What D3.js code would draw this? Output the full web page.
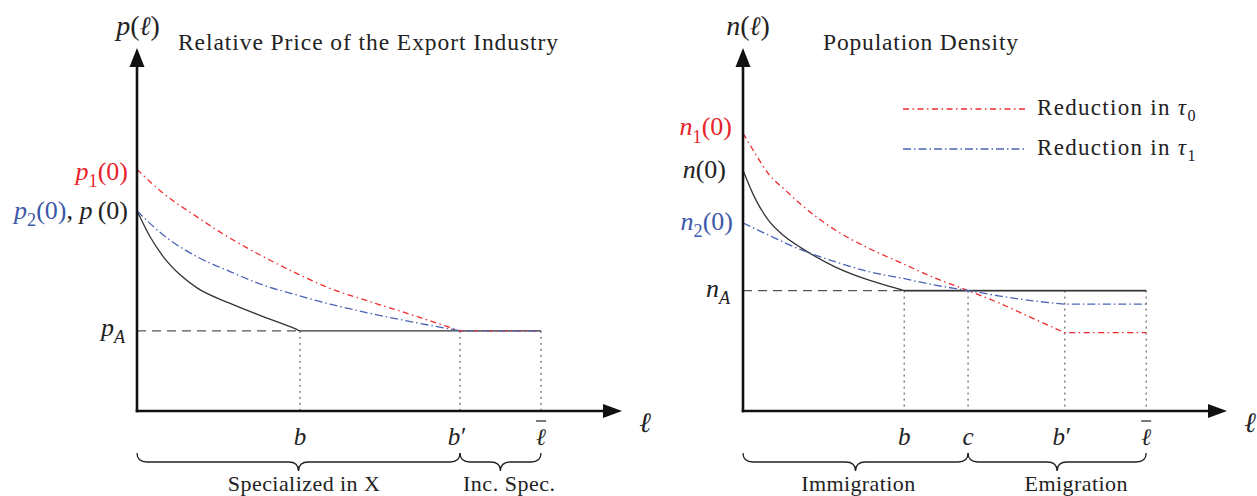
<!DOCTYPE html>
<html><head><meta charset="utf-8">
<script src="https://cdn.jsdelivr.net/npm/d3@7"></script>
<style>
body{margin:0;background:#fff;}
svg{display:block;}
text{font-family:"Liberation Serif","Times New Roman",serif;}
</style>
</head><body>
<svg id="chart" width="1257" height="496"></svg>
<script>
// ---------------- DATA ----------------
// Left panel: relative price p(l)
const leftTitle = "Relative Price of the Export Industry";
const leftBaseX = [0, 0.27, 0.54, 0.89, 1.23, 1.92, 2.60, 3.29, 3.36, 8.33];
const leftBaseY = [5.47, 4.76, 4.22, 3.72, 3.37, 2.94, 2.58, 2.23, 2.19, 2.19];
const leftColX  = [0, 0.54, 1.23, 1.92, 2.60, 3.29, 3.98, 4.80, 5.73, 6.66, 8.33];
const leftRedY  = [6.60, 5.95, 5.31, 4.72, 4.22, 3.76, 3.35, 2.99, 2.60, 2.19, 2.19];
const leftBlueY = [5.47, 4.81, 4.22, 3.81, 3.44, 3.17, 2.92, 2.67, 2.42, 2.19, 2.19];
const leftTickValues = [3.36, 6.66, 8.33];
const leftTickLabels = ["b", "b\u2032", "\u2113"];
const leftTickBar = [false, false, true];
const leftLevel = 2.19;          // p_A
const leftP1 = 6.53, leftP0 = 5.47;
const leftBraces = [[0, 6.66], [6.66, 8.33]];
const leftBraceLabels = ["Specialized in X", "Inc. Spec."];
const leftBraceLabelX = [3.44, 7.67];

// Right panel: population density n(l)
const rightTitle = "Population Density";
const rightBaseX = [0, 0.25, 0.52, 0.87, 1.21, 1.90, 2.59, 3.28, 3.33, 8.33];
const rightBaseY = [6.58, 5.81, 5.22, 4.76, 4.45, 3.94, 3.58, 3.31, 3.29, 3.29];
const rightRedX  = [0, 0.25, 0.52, 0.87, 1.21, 1.90, 2.59, 3.28, 3.97, 4.65, 5.31, 5.99, 6.65, 8.33];
const rightRedY  = [7.59, 7.04, 6.49, 6.04, 5.63, 4.95, 4.45, 4.04, 3.63, 3.29, 2.94, 2.53, 2.14, 2.14];
const rightBlueX = [0, 0.52, 1.21, 1.90, 2.59, 3.28, 3.97, 4.65, 5.31, 5.99, 6.65, 8.33];
const rightBlueY = [5.14, 4.81, 4.40, 4.08, 3.81, 3.63, 3.44, 3.29, 3.14, 3.01, 2.92, 2.92];
const rightTickValues = [3.33, 4.65, 6.65, 8.33];
const rightTickLabels = ["b", "c", "b\u2032", "\u2113"];
const rightTickBar = [false, false, false, true];
const rightLevel = 3.29;         // n_A
const rightN1 = 7.75, rightN0 = 6.58, rightN2 = 5.17;
const rightBraces = [[0, 4.65], [4.65, 8.33]];
const rightBraceLabels = ["Immigration", "Emigration"];
const rightBraceLabelX = [2.38, 6.88];
const legendLabels = ["Reduction in ", "Reduction in "];
const legendSubs = ["0", "1"];

// ---------------- STYLE ----------------
const RED = "#ee2a2e", BLUE = "#4a64b6", RED_T = "#e8232b", BLUE_T = "#3c58a8", INK = "#222";
const DASH_RED = "6,3.5,1.5,3.5", DASH_BLUE = "8,3,1.5,3";
const ELL_FONT = "'DejaVu Serif', serif";

const svg = d3.select("#chart");

const lx = d3.scaleLinear().domain([0, 10]).range([137, 622]);
const rx = d3.scaleLinear().domain([0, 10]).range([743, 1227]);
const y  = d3.scaleLinear().domain([0, 10]).range([411, 45]);

function mtext(g, x, yy, parts, size, anchor) {
  const t = g.append("text").attr("x", x).attr("y", yy)
    .attr("font-size", size).attr("text-anchor", anchor || "start");
  let shift = 0;
  parts.forEach(p => {
    const ts = t.append("tspan").text(p.t).attr("fill", p.c || INK);
    if (p.i) ts.attr("font-style", "italic");
    if (p.f) ts.attr("font-family", p.f).attr("font-size", size * (p.fs || 0.85));
    const target = p.s ? size * 0.28 : 0;
    if (target !== shift) { ts.attr("dy", target - shift); shift = target; }
    if (p.s) ts.attr("font-size", size * 0.7);
  });
  return t;
}

function brace(g, x1, x2, yy, h) {
  const xm = (x1 + x2) / 2, r = Math.min(10, (x2 - x1) / 5), m = yy + h / 2;
  const p = d3.path();
  p.moveTo(x1, yy);
  p.quadraticCurveTo(x1, m, x1 + r, m);
  p.lineTo(xm - r, m);
  p.quadraticCurveTo(xm, m, xm, yy + h);
  p.quadraticCurveTo(xm, m, xm + r, m);
  p.lineTo(x2 - r, m);
  p.quadraticCurveTo(x2, m, x2, yy);
  g.append("path").attr("d", p.toString()).attr("fill", "none")
    .attr("stroke", INK).attr("stroke-width", 1.3);
}

// curve: smooth through all but the final flat point, then straight to the end
function curvePath(x, xs, ys, smoothEnd) {
  const pts = d3.zip(xs, ys);
  const line = d3.line().x(d => x(d[0])).y(d => y(d[1])).curve(d3.curveMonotoneX);
  if (smoothEnd) return line(pts);
  const last = pts[pts.length - 1];
  return line(pts.slice(0, -1)) + `L${x(last[0])},${y(last[1])}`;
}

function panel(opt) {
  const g = svg.append("g");
  const x = opt.x;
  const x0 = x.range()[0], xEnd = x.range()[1];
  const y0 = y(0), yTop = y(10) + 3;

  if (opt.solidLevel) {
    g.append("line").attr("x1", x(opt.ticks[0])).attr("x2", x(opt.ticks[opt.ticks.length - 1]))
      .attr("y1", y(opt.level)).attr("y2", y(opt.level)).attr("stroke", "#666").attr("stroke-width", 1.6);
  }
  // reference dashed horizontal
  g.append("line").attr("x1", x(0)).attr("x2", x(opt.ticks[0]))
    .attr("y1", y(opt.level)).attr("y2", y(opt.level))
    .attr("stroke", "#555").attr("stroke-width", 1.3).attr("stroke-dasharray", "9,6");
  // dotted verticals
  g.selectAll(".vd").data(opt.ticks).join("line")
    .attr("x1", d => x(d)).attr("x2", d => x(d))
    .attr("y1", y(opt.level)).attr("y2", y0)
    .attr("stroke", "#444").attr("stroke-width", 1).attr("stroke-dasharray", "2,4");

  // curves
  g.append("path").attr("d", curvePath(x, opt.baseX, opt.baseY, true))
    .attr("fill", "none").attr("stroke", "#333").attr("stroke-width", 1.3);
  g.append("path").attr("d", curvePath(x, opt.redX, opt.redY, false))
    .attr("fill", "none").attr("stroke", RED).attr("stroke-width", 1.3).attr("stroke-dasharray", DASH_RED);
  g.append("path").attr("d", curvePath(x, opt.blueX, opt.blueY, opt.blueSmooth))
    .attr("fill", "none").attr("stroke", BLUE).attr("stroke-width", 1.3).attr("stroke-dasharray", DASH_BLUE);

  // axes
  g.append("line").attr("x1", x0).attr("x2", x0).attr("y1", y0 + 1.3).attr("y2", yTop + 16)
    .attr("stroke", "#111").attr("stroke-width", 2.6);
  g.append("line").attr("x1", x0 - 1.3).attr("x2", xEnd - 16).attr("y1", y0).attr("y2", y0)
    .attr("stroke", "#111").attr("stroke-width", 2.6);
  g.append("path").attr("d", `M${x0},${yTop} L${x0 - 7.5},${yTop + 19} L${x0 + 7.5},${yTop + 19} Z`).attr("fill", "#111");
  g.append("path").attr("d", `M${xEnd},${y0} L${xEnd - 19},${y0 - 7} L${xEnd - 19},${y0 + 7} Z`).attr("fill", "#111");

  // axis labels
  mtext(g, x0 + opt.axisLabelDx, 35, [{t: opt.fn, i: true}, {t: "("}, {t: "\u2113", i: true, f: ELL_FONT, fs: 0.95}, {t: ")"}], 28, "middle");
  mtext(g, xEnd + 23, 432, [{t: "\u2113", i: true, f: ELL_FONT, fs: 1.0}], 28, "middle");

  // title
  g.append("text").attr("x", opt.titleX).attr("y", 50).attr("font-size", 23.5)
    .attr("fill", INK).attr("textLength", opt.titleLen).attr("lengthAdjust", "spacing")
    .text(opt.title);

  // tick labels
  opt.ticks.forEach((v, i) => {
    const lab = opt.tickLabels[i];
    if (lab.length > 1) {
      mtext(g, x(v) - 6, 445, [{t: lab[0], i: true}], 25, "middle");
      mtext(g, x(v) + 1, 445, [{t: lab[1]}], 25, "start");
    } else if (opt.tickBar[i]) {
      mtext(g, x(v), 445, [{t: lab, i: true, f: ELL_FONT, fs: 0.95}], 25, "middle");
      g.append("line").attr("x1", x(v) - 5).attr("x2", x(v) + 5)
        .attr("y1", 421).attr("y2", 421).attr("stroke", INK).attr("stroke-width", 1.2);
    } else {
      mtext(g, x(v), 445, [{t: lab, i: true}], 25, "middle");
    }
  });

  // braces
  opt.braces.forEach((b, i) => {
    brace(g, x(b[0]), x(b[1]), 453, 18);
    g.append("text").attr("x", x(opt.braceLabelX[i])).attr("y", 491)
      .attr("font-size", 22).attr("text-anchor", "middle").attr("fill", INK)
      .attr("textLength", opt.braceLabelLen[i]).attr("lengthAdjust", "spacing")
      .text(opt.braceLabels[i]);
  });
  return g;
}

const gl = panel({
  x: lx, title: leftTitle, titleX: 178, titleLen: 380, fn: "p", axisLabelDx: 1,
  baseX: leftBaseX, baseY: leftBaseY, redX: leftColX, redY: leftRedY, blueX: leftColX, blueY: leftBlueY,
  blueSmooth: false, solidLevel: false,
  ticks: leftTickValues, tickLabels: leftTickLabels, tickBar: leftTickBar, level: leftLevel,
  braces: leftBraces, braceLabels: leftBraceLabels, braceLabelX: leftBraceLabelX, braceLabelLen: [152, 92]
});
mtext(gl, 128, y(leftP1) + 8, [{t: "p", i: true, c: RED_T}, {t: "1", s: true, c: RED_T}, {t: "(0)", c: RED_T}], 26, "end");
mtext(gl, 128, y(leftP0) + 8, [{t: "p", i: true, c: BLUE_T}, {t: "2", s: true, c: BLUE_T}, {t: "(0)", c: BLUE_T},
  {t: ", "}, {t: "p", i: true}, {t: "\u2009(0)"}], 26, "end");
mtext(gl, 125, y(leftLevel) + 5, [{t: "p", i: true}, {t: "A", i: true, s: true}], 26, "end");

const gr = panel({
  x: rx, title: rightTitle, titleX: 823, titleLen: 195, fn: "n", axisLabelDx: 5,
  baseX: rightBaseX, baseY: rightBaseY, redX: rightRedX, redY: rightRedY, blueX: rightBlueX, blueY: rightBlueY,
  blueSmooth: false, solidLevel: true,
  ticks: rightTickValues, tickLabels: rightTickLabels, tickBar: rightTickBar, level: rightLevel,
  braces: rightBraces, braceLabels: rightBraceLabels, braceLabelX: rightBraceLabelX, braceLabelLen: [114, 103]
});
mtext(gr, 732, y(rightN1) + 8, [{t: "n", i: true, c: RED_T}, {t: "1", s: true, c: RED_T}, {t: "(0)", c: RED_T}], 26, "end");
mtext(gr, 726, y(rightN0) + 8, [{t: "n", i: true}, {t: "(0)"}], 26, "end");
mtext(gr, 733, y(rightN2) + 8, [{t: "n", i: true, c: BLUE_T}, {t: "2", s: true, c: BLUE_T}, {t: "(0)", c: BLUE_T}], 26, "end");
mtext(gr, 730, y(rightLevel) + 6, [{t: "n", i: true}, {t: "A", i: true, s: true}], 26, "end");

// legend
const legColors = [RED, BLUE], legDash = [DASH_RED, DASH_BLUE];
legendLabels.forEach((lab, i) => {
  const ly = 109 + i * 40;
  gr.append("line").attr("x1", 903).attr("x2", 1025).attr("y1", ly).attr("y2", ly)
    .attr("stroke", legColors[i]).attr("stroke-width", 1.3).attr("stroke-dasharray", legDash[i]);
  mtext(gr, 1037, ly + 6, [{t: lab}, {t: "\u03c4", i: true}, {t: legendSubs[i], s: true}], 23, "start")
    .attr("letter-spacing", 1.3);
});
</script>
</body></html>
